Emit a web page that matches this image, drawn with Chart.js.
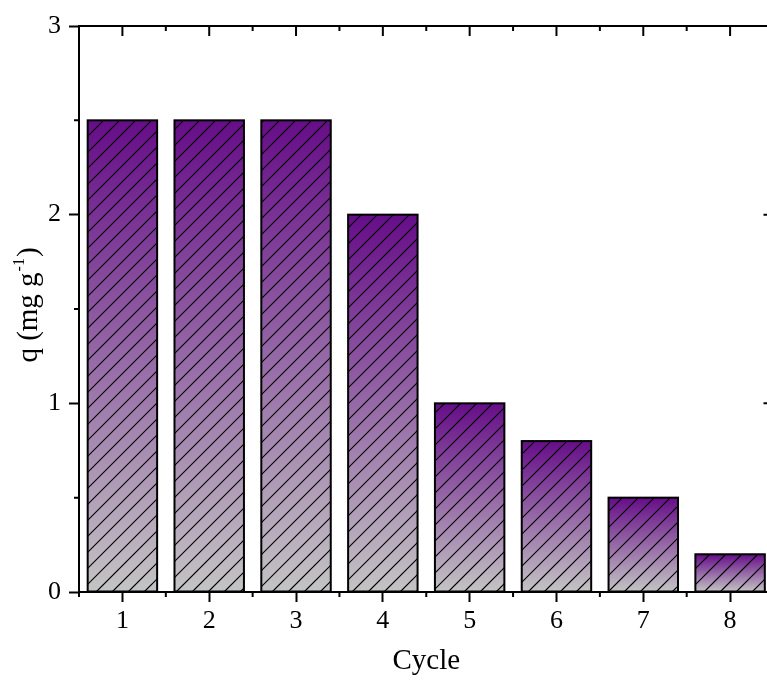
<!DOCTYPE html>
<html>
<head>
<meta charset="utf-8">
<script src="https://cdn.jsdelivr.net/npm/chart.js@4/dist/chart.umd.min.js"></script>
<style>
  html, body { margin: 0; padding: 0; overflow: hidden; background: #fff; }
  canvas { display: block; }
</style>
</head>
<body>
<canvas id="chart" width="790" height="682"></canvas>
<script>
/* ---- data ---- */
const cycles   = ["1", "2", "3", "4", "5", "6", "7", "8"];
const capacity = [2.5, 2.5, 2.5, 2.0, 1.0, 0.8, 0.5, 0.2];
const yTicks   = [0, 1, 2, 3];
const yMinor   = [0.5, 1.5, 2.5];

const FONT = "'Liberation Serif', 'Times New Roman', serif";
const TOP_COLOR = "#660d88";
const BOTTOM_COLOR = "#c4c4c4";

/* per-bar vertical gradient, purple on top fading to grey */
function barGradient(ctx) {
  const chart = ctx.chart;
  if (!chart.chartArea) return BOTTOM_COLOR;
  const ys = chart.scales.y;
  const top = ys.getPixelForValue(ctx.raw);
  const bot = ys.getPixelForValue(0);
  const g = chart.ctx.createLinearGradient(0, top, 0, bot);
  g.addColorStop(0, TOP_COLOR);
  g.addColorStop(1, BOTTOM_COLOR);
  return g;
}

/* diagonal hatch drawn on top of each bar */
const hatchPlugin = {
  id: "hatch",
  afterDatasetsDraw(chart) {
    const c = chart.ctx;
    const meta = chart.getDatasetMeta(0);
    const step = 16;
    meta.data.forEach(bar => {
      const { x, y, base, width } = bar.getProps(["x", "y", "base", "width"], true);
      const left = x - width / 2, right = x + width / 2;
      c.save();
      c.beginPath();
      c.rect(left, y, width, base - y);
      c.clip();
      c.strokeStyle = "#000";
      c.lineWidth = 1.1;
      c.beginPath();
      const start = Math.floor((left + y) / step) * step;
      for (let k = start; k < right + base + step; k += step) {
        c.moveTo(k - base, base);
        c.lineTo(k - y, y);
      }
      c.stroke();
      c.restore();
      c.save();
      c.strokeStyle = "#000";
      c.lineWidth = 2;
      c.strokeRect(left, y, width, base - y);
      c.restore();
    });
  }
};

/* minor ticks, mirrored frame and y title with superscript */
const framePlugin = {
  id: "frame",
  afterDraw(chart) {
    const c = chart.ctx;
    const xs = chart.scales.x, ys = chart.scales.y;
    const { left, right, top, bottom } = chart.chartArea;
    c.save();
    c.strokeStyle = "#000";
    c.lineWidth = 2;
    c.beginPath();
    // top and right frame
    c.moveTo(left - 1, top); c.lineTo(right + 1, top);
    c.moveTo(right, top); c.lineTo(right, bottom);
    // y minor (left outward, right inward) and right major inward
    yMinor.forEach(v => {
      const p = ys.getPixelForValue(v);
      c.moveTo(left - 5, p); c.lineTo(left, p);
      c.moveTo(right - 5, p); c.lineTo(right, p);
    });
    yTicks.forEach(v => {
      const p = ys.getPixelForValue(v);
      c.moveTo(right - 10, p); c.lineTo(right, p);
    });
    // x major on top (inward) and minor on both
    cycles.forEach((lab, i) => {
      const p = xs.getPixelForValue(i);
      c.moveTo(p, top); c.lineTo(p, top + 10);
    });
    for (let i = 0; i <= cycles.length; i++) {
      const p = xs.getPixelForValue(i - 0.5);
      c.moveTo(p, bottom); c.lineTo(p, bottom + 5);
      c.moveTo(p, top); c.lineTo(p, top + 5);
    }
    c.stroke();

    // y axis title: q (mg g^-1)
    const cy = (top + bottom) / 2 - 3;
    c.translate(37, cy);
    c.rotate(-Math.PI / 2);
    c.fillStyle = "#000";
    c.textBaseline = "alphabetic";
    const main = "q (mg g";
    const sup = "-1";
    const tail = ")";
    c.font = "29px " + FONT;
    const wMain = c.measureText(main).width;
    const wTail = c.measureText(tail).width;
    c.font = "16px " + FONT;
    const wSup = c.measureText(sup).width;
    let x0 = -(wMain + wSup + wTail) / 2;
    c.font = "29px " + FONT;
    c.textAlign = "left";
    c.fillText(main, x0, 0);
    c.font = "16px " + FONT;
    c.fillText(sup, x0 + wMain + 1, -13);
    c.font = "29px " + FONT;
    c.fillText(tail, x0 + wMain + wSup + 2, 0);
    c.restore();
  }
};

new Chart(document.getElementById("chart"), {
  type: "bar",
  data: {
    labels: cycles,
    datasets: [{
      data: capacity,
      backgroundColor: barGradient,
      borderColor: "#000",
      borderWidth: 0,
      barPercentage: 0.8,
      categoryPercentage: 1.0
    }]
  },
  options: {
    responsive: false,
    animation: false,
    devicePixelRatio: 1,
    layout: { padding: { left: 0, top: 26, right: 16.5, bottom: 0 } },
    plugins: {
      legend: { display: false },
      tooltip: { enabled: false }
    },
    scales: {
      x: {
        type: "category",
        offset: true,
        afterFit: s => { s.height = 90; },
        grid: {
          display: true, drawOnChartArea: false, drawTicks: true,
          tickLength: 10, tickWidth: 2, tickColor: "#000", offset: false
        },
        border: { display: true, color: "#000", width: 2 },
        ticks: { color: "#000", padding: 4, font: { family: FONT, size: 26 }, maxRotation: 0 },
        title: {
          display: true, text: "Cycle", color: "#000",
          font: { family: FONT, size: 29 }, padding: { top: 0, bottom: 3 }
        }
      },
      y: {
        min: 0, max: 3,
        afterFit: s => { s.width = 79; },
        afterBuildTicks: s => { s.ticks = yTicks.map(v => ({ value: v })); },
        grid: {
          display: true, drawOnChartArea: false, drawTicks: true,
          tickLength: 10, tickWidth: 2, tickColor: "#000"
        },
        border: { display: true, color: "#000", width: 2 },
        ticks: { color: "#000", padding: 8, font: { family: FONT, size: 26 } }
      }
    }
  },
  plugins: [hatchPlugin, framePlugin]
});
</script>
</body>
</html>
